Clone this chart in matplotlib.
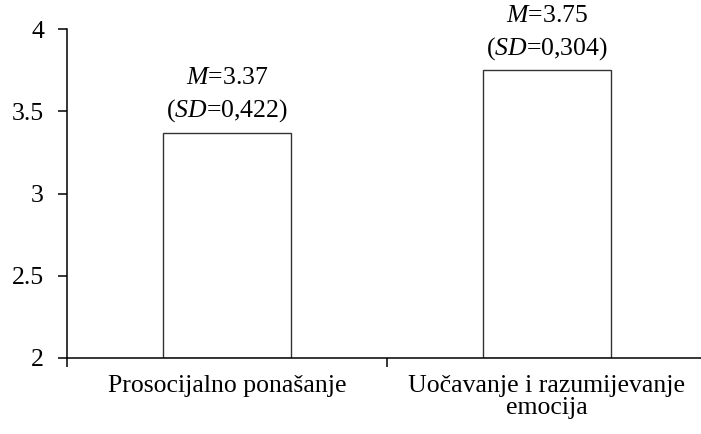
import matplotlib.pyplot as plt

plt.rcParams['font.family'] = 'Liberation Serif'
plt.rcParams['mathtext.fontset'] = 'custom'
plt.rcParams['mathtext.rm'] = 'Liberation Serif'
plt.rcParams['mathtext.it'] = 'Liberation Serif:italic'

categories = ["Prosocijalno ponašanje", "Uočavanje i razumijevanje\nemocija"]
means = [3.37, 3.75]
sd_labels = ["0,422", "0,304"]
y_ticks = [2, 2.5, 3, 3.5, 4]

FS = 18.5

fig = plt.figure(figsize=(7.01, 4.34), dpi=100)
ax = fig.add_axes([67 / 701, 76 / 434, 640 / 701, 329 / 434])

x = list(range(len(categories)))
ax.bar(x, [m - 2 for m in means], bottom=2, width=0.4, color="white",
       edgecolor="#333333", linewidth=1.0, zorder=2)

# two lines of label above each bar
for xi, m, sd in zip(x, means, sd_labels):
    ax.annotate(r"$M$=" + f"{m:.2f}", (xi, m), textcoords="offset points",
                xytext=(0, 35), ha="center", va="baseline", fontsize=FS,
                annotation_clip=False)
    ax.annotate(r"($SD$=" + sd + ")", (xi, m), textcoords="offset points",
                xytext=(0, 11.5), ha="center", va="baseline", fontsize=FS)

ax.set_xlim(-0.5, 1.5)
ax.set_ylim(2, 4)
ax.set_yticks(y_ticks)
ax.set_yticklabels([f"{t:g}" for t in y_ticks], fontsize=FS)

ax.set_xticks(x)
ax.set_xticklabels(categories, fontsize=FS, linespacing=1.0)
ax.tick_params(axis="x", which="major", length=0, pad=12)
ax.set_xticks([-0.5, 0.5, 1.5], minor=True)
ax.tick_params(axis="x", which="minor", length=6.5, width=1.1, direction="out")
ax.tick_params(axis="y", length=6.5, width=1.1, direction="out", pad=10)

for s in ["top", "right"]:
    ax.spines[s].set_visible(False)
for s in ["left", "bottom"]:
    ax.spines[s].set_linewidth(1.1)
    ax.spines[s].set_color("black")

fig.savefig("out.png", dpi=100)
